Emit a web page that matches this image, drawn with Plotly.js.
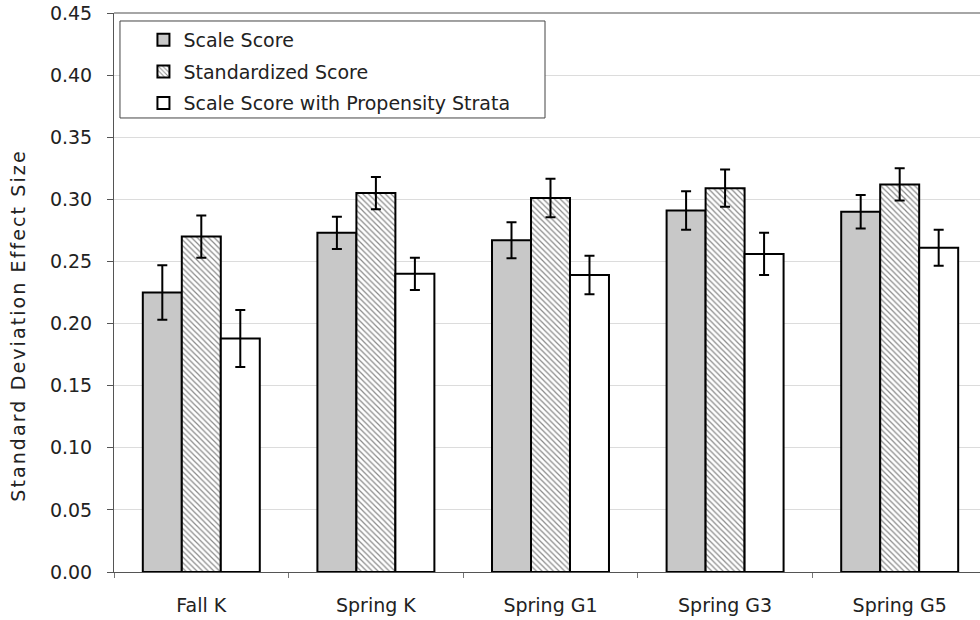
<!DOCTYPE html>
<html>
<head>
<meta charset="utf-8">
<script src="https://cdn.plot.ly/plotly-3.0.1.min.js"></script>
<style>
  html, body { margin: 0; padding: 0; background: #fff; overflow: hidden; }
  #chart { width: 980px; height: 620px; }
  /* widely tracked vertical axis caption */
  #chart .annotation-text { letter-spacing: 2.1px; }
</style>
</head>
<body>
<div id="chart"></div>
<script>
// Effect sizes by assessment wave, with standard errors
const categories = ['Fall K', 'Spring K', 'Spring G1', 'Spring G3', 'Spring G5'];

const scaleScore    = [0.225, 0.273, 0.267, 0.291, 0.290];
const scaleScoreErr = [0.022, 0.013, 0.0145, 0.0155, 0.0135];

const standardized    = [0.270, 0.305, 0.301, 0.309, 0.312];
const standardizedErr = [0.017, 0.013, 0.0155, 0.015, 0.013];

const propensity    = [0.188, 0.240, 0.239, 0.256, 0.261];
const propensityErr = [0.023, 0.013, 0.0155, 0.017, 0.0145];

const seriesNames = ['Scale Score', 'Standardized Score', 'Scale Score with Propensity Strata'];
const yTicks = [0, 0.05, 0.10, 0.15, 0.20, 0.25, 0.30, 0.35, 0.40, 0.45];
const yTitle = 'Standard Deviation Effect Size';

const FONT = 'DejaVu Sans, Verdana, sans-serif';

function errorBars(arr) {
  return { type: 'data', array: arr, visible: true, color: '#000', thickness: 2, width: 5 };
}

const outline = { color: '#000', width: 2 };

const traces = [
  {
    type: 'bar', name: seriesNames[0], x: categories, y: scaleScore,
    marker: { color: '#c8c8c8', line: outline },
    error_y: errorBars(scaleScoreErr), legendgroup: 'a'
  },
  {
    type: 'bar', name: seriesNames[1], x: categories, y: standardized,
    marker: {
      color: '#ffffff', line: outline,
      pattern: { shape: '\\', bgcolor: '#ffffff', fgcolor: '#8a8a8a', size: 4, solidity: 0.3 }
    },
    error_y: errorBars(standardizedErr), legendgroup: 'b'
  },
  {
    type: 'bar', name: seriesNames[2], x: categories, y: propensity,
    marker: { color: '#ffffff', line: outline },
    error_y: errorBars(propensityErr), legendgroup: 'c'
  }
];

const layout = {
  width: 980, height: 620,
  margin: { l: 114, r: 0, t: 13, b: 48 },
  paper_bgcolor: '#fff', plot_bgcolor: '#fff',
  font: { family: FONT, size: 19, color: '#222' },
  barmode: 'group', bargap: 0.33, bargroupgap: 0,
  showlegend: true,
  legend: {
    x: 0.034, y: 0.986, xanchor: 'left', yanchor: 'top',
    bgcolor: 'rgba(0,0,0,0)', borderwidth: 0,
    font: { family: FONT, size: 19, color: '#222' },
    traceorder: 'grouped', tracegroupgap: 4
  },
  xaxis: {
    type: 'category', range: [-0.5, 4.46],
    tickson: 'boundaries', ticks: 'outside', ticklen: 5, tickcolor: '#777', tickwidth: 1,
    showline: true, linecolor: '#555', linewidth: 1,
    showgrid: false, zeroline: false,
    tickfont: { family: FONT, size: 19, color: '#222' },
    ticklabelstandoff: 16
  },
  yaxis: {
    range: [0, 0.45], tickvals: yTicks, tickformat: '.2f',
    ticks: 'outside', ticklen: 6, tickcolor: '#555', tickwidth: 1,
    showline: true, linecolor: '#555', linewidth: 1,
    showgrid: true, gridcolor: '#dcdcdc', gridwidth: 1, zeroline: false,
    tickfont: { family: FONT, size: 19, color: '#222' },
    ticklabelstandoff: 11
  },
  annotations: [
    { text: yTitle, xref: 'paper', yref: 'paper', x: -0.1108, y: 0.44,
      xanchor: 'center', yanchor: 'middle', textangle: -90, showarrow: false,
      font: { family: FONT, size: 19, color: '#222' } }
  ],
  shapes: [
    // top frame line
    { type: 'line', xref: 'paper', yref: 'paper', x0: 0, x1: 1, y0: 1, y1: 1,
      line: { color: '#888', width: 1.5 } },
    // legend box
    { type: 'rect', xref: 'paper', yref: 'paper', layer: 'above',
      x0: 0.0069, x1: 0.4977, y0: 0.8122, y1: 0.9857,
      fillcolor: '#fff', line: { color: '#444', width: 1 } }
  ]
};

Plotly.newPlot('chart', traces, layout, { displayModeBar: false, staticPlot: true });
</script>
</body>
</html>
